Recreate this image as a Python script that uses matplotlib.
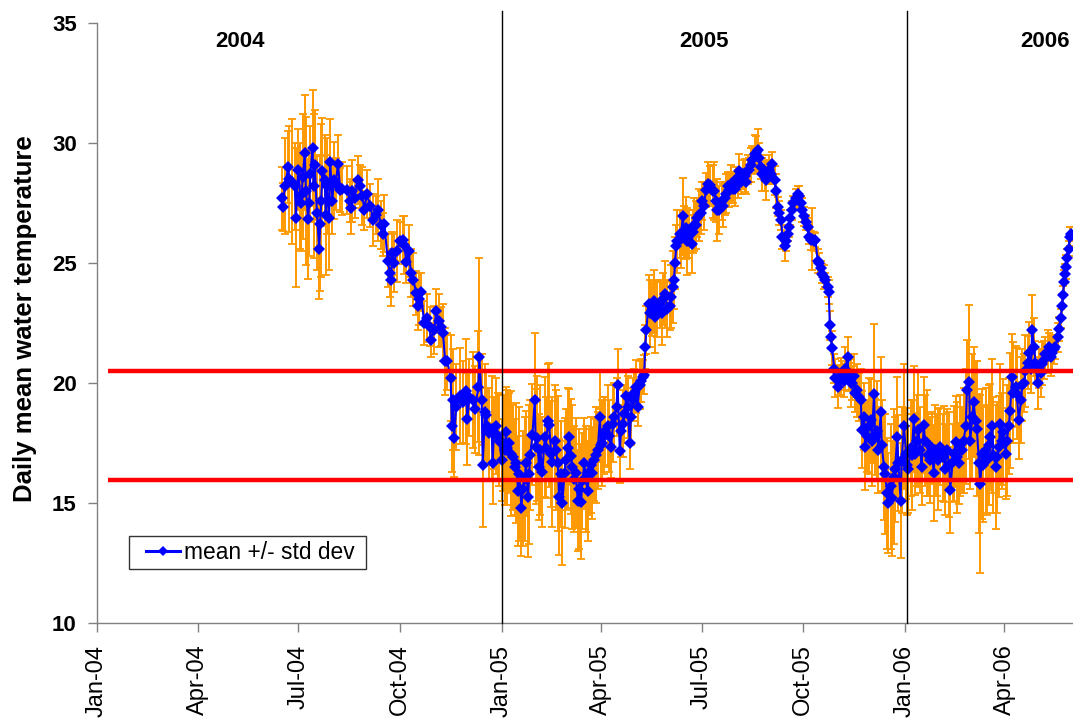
import matplotlib
matplotlib.use('Agg')
import matplotlib.pyplot as plt
import matplotlib.dates as mdates
from matplotlib.legend_handler import HandlerLine2D
import numpy as np
import pandas as pd

plt.rcParams['font.family'] = ['Liberation Sans', 'DejaVu Sans']

# Daily mean water temperature
# day = days since 2004-01-01
days_a = [167, 168, 170, 173, 174, 176, 179, 180, 182, 184, 185, 186, 188, 189, 191,
          192, 193, 195, 196, 197, 199, 201, 202, 203, 204, 206, 207, 208, 210, 211,
          213, 214, 216, 218, 220, 222]
mean_a = [27.7, 27.35, 28.2, 29.0, 28.5, 28.4, 28.2, 26.9, 28.9, 27.8, 27.5, 28.6, 29.6, 28.0, 26.85,
          27.5, 28.7, 29.8, 28.2, 29.1, 27.1, 25.6, 26.65, 27.6, 28.85, 28.45, 27.0, 28.2, 26.9, 29.2,
          27.6, 28.45, 28.3, 29.15, 28.05, 28.1]
sd_a = [1.3, 1.0, 2.0, 1.5, 2.2, 2.6, 1.8, 2.9, 1.7, 2.2, 2.0, 2.6, 2.4, 3.1, 2.5,
        2.2, 2.0, 2.4, 3.0, 2.3, 2.4, 2.1, 2.8, 3.2, 2.2, 1.9, 2.5, 2.0, 2.2, 1.8,
        1.4, 1.6, 1.1, 1.2, 0.9, 1.1]

days_b = [226, 229, 230, 231, 233, 236, 238, 240, 242, 244, 247, 250, 252, 254, 257,
          259, 260, 263, 265, 266, 267, 269, 271, 274, 277, 278, 280, 282, 284, 286,
          289, 290, 291, 293, 296, 299, 301, 302, 305, 307, 309, 311, 313, 315, 317,
          320, 321, 322, 323]
mean_b = [28.05, 27.6, 27.3, 28.0, 27.7, 28.45, 28.2, 27.8, 27.2, 27.9, 27.4, 26.8, 27.0, 27.2, 26.6,
          26.2, 26.65, 25.1, 24.6, 24.3, 25.4, 25.0, 25.5, 25.9, 25.95, 25.75, 25.05, 25.5, 24.6, 24.3,
          23.75, 23.2, 23.5, 23.8, 22.5, 22.7, 22.35, 21.8, 22.2, 23.0, 22.6, 22.35, 22.1, 20.9, 20.9,
          20.2, 18.2, 19.3, 17.7]
sd_b = [1.0, 0.9, 1.1, 1.3, 0.8, 1.0, 0.9, 1.2, 0.8, 1.0, 0.9, 1.1, 0.8, 1.3, 1.0,
        0.9, 1.2, 1.1, 1.0, 1.1, 0.9, 1.2, 1.3, 0.8, 1.0, 1.2, 0.9, 1.1, 1.0, 1.1,
        0.9, 1.0, 1.1, 0.8, 0.9, 1.0, 0.8, 0.7, 1.0, 0.9, 1.1, 0.8, 1.2, 1.4, 1.2,
        1.8, 1.9, 2.1, 1.6]

days_c = [325, 328, 331, 334, 335, 337, 340, 342, 345, 346, 348, 349, 351, 352, 353,
          355, 357, 358, 359, 361, 363, 364, 366]
mean_c = [19.0, 19.45, 19.2, 19.65, 18.5, 19.4, 19.3, 18.9, 19.85, 21.1, 19.3, 16.6, 18.8, 18.65, 18.2,
          17.9, 18.1, 16.65, 17.9, 18.2, 17.8, 17.6, 16.8]
sd_c = [1.8, 2.0, 1.7, 2.2, 1.9, 1.6, 2.0, 1.8, 2.3, 4.1, 1.9, 2.6, 2.0, 1.8, 1.6,
        1.9, 2.2, 1.7, 1.5, 2.0, 1.8, 1.9, 1.7]

days_d = [367, 369, 370, 371, 373, 375, 376, 378, 379, 381, 382, 384, 385, 387, 388,
          390, 391, 392, 394, 396, 397, 398, 400, 401, 403, 405, 406, 408, 409, 411,
          412, 414, 415, 417, 418, 420, 421, 423, 424, 426, 427, 429, 430, 432, 433,
          435, 436, 438, 439, 441, 442, 444, 445, 447, 448, 450, 451, 453, 455, 456,
          457, 459, 460, 462, 463, 465, 467, 468, 470, 471, 473, 474, 476, 477, 479,
          480, 482, 483, 485, 486, 488, 489, 491, 492, 494, 495]
mean_d = [17.5, 17.2, 17.95, 17.3, 17.5, 17.05, 16.9, 16.5, 16.65, 15.5, 16.2, 14.8, 15.6, 16.0, 16.65,
          15.25, 16.2, 17.0, 17.85, 19.3, 17.35, 17.7, 16.5, 17.2, 16.3, 17.75, 17.3, 18.4, 18.25, 17.05,
          16.7, 17.6, 17.2, 16.65, 15.25, 16.2, 15.0, 16.25, 16.8, 17.3, 17.75, 16.95, 16.5, 16.0, 16.25,
          15.1, 15.6, 15.05, 15.9, 16.65, 16.0, 15.5, 16.3, 16.6, 16.25, 16.8, 17.0, 17.2, 18.6, 17.4,
          17.5, 17.8, 18.0, 18.2, 17.8, 17.35, 18.3, 18.6, 19.0, 19.9, 17.15, 18.0, 18.3, 18.7, 19.45,
          19.0, 17.5, 18.6, 19.3, 19.6, 19.85, 19.0, 19.9, 20.1, 20.25, 20.35]
sd_d = [2.0, 2.3, 1.9, 2.4, 2.1, 2.6, 2.2, 2.0, 2.5, 2.3, 2.8, 2.0, 2.4, 2.6, 2.2,
        2.5, 2.9, 2.3, 2.1, 2.8, 2.4, 2.6, 2.2, 2.7, 2.3, 2.5, 2.1, 2.4, 2.6, 2.2,
        2.7, 2.3, 2.5, 2.8, 2.4, 2.2, 2.6, 2.3, 2.1, 2.5, 2.0, 2.4, 2.6, 2.2, 2.3,
        2.1, 2.5, 2.4, 2.0, 1.9, 2.2, 2.1, 1.8, 2.0, 1.9, 1.7, 2.0, 1.6, 1.9, 1.5,
        1.8, 1.6, 1.4, 1.7, 1.5, 1.3, 1.6, 1.4, 1.2, 1.5, 1.3, 1.1, 1.4, 1.2, 1.0,
        1.3, 1.1, 1.2, 0.9, 1.0, 1.1, 0.8, 1.0, 0.9, 0.7, 0.8]

days_e = [496, 497, 499, 500, 502, 504, 505, 507, 509, 511, 512, 514, 516, 518, 519,
          521, 522, 523, 524, 525, 527, 528, 530, 531, 533, 534, 536, 538, 539, 540,
          542, 543, 545, 546, 547, 549, 551, 553, 555, 557, 558, 560, 561, 563, 565,
          566, 568, 569, 571, 572, 574, 575, 577, 578, 580, 581, 583, 584, 586, 587,
          589, 590, 592, 593, 595, 596, 598, 599, 601, 602, 604, 605, 607, 608, 610,
          611, 613, 614, 616, 617, 619, 620, 622, 623, 625, 626, 627, 629, 630, 632,
          634, 635, 637, 638, 640, 641, 643, 644, 646, 647, 649, 650, 652, 653, 655,
          656, 658, 659, 661, 662, 663, 664, 665, 667, 668, 670]
mean_e = [21.5, 22.2, 23.3, 22.9, 23.05, 23.4, 22.75, 23.1, 23.3, 22.9, 23.5, 23.7, 23.1, 23.2, 23.6,
          24.0, 24.3, 25.0, 25.7, 25.9, 26.2, 26.0, 26.95, 26.3, 26.45, 25.9, 26.2, 25.8, 26.3, 26.6,
          26.6, 26.9, 27.0, 27.1, 27.6, 27.4, 28.05, 28.3, 28.25, 28.0, 28.0, 27.6, 27.2, 27.2, 27.6,
          27.4, 27.7, 27.9, 28.2, 28.05, 28.3, 28.1, 28.1, 28.5, 28.3, 28.85, 28.4, 28.7, 28.65, 28.4,
          28.9, 28.9, 29.1, 29.3, 29.55, 29.6, 29.7, 29.4, 29.0, 28.7, 28.6, 28.45, 28.8, 28.9, 28.7,
          29.15, 28.45, 28.0, 27.35, 27.1, 26.8, 26.1, 25.7, 25.9, 26.2, 26.5, 26.9, 27.2, 27.5, 27.7,
          27.9, 27.8, 27.5, 27.2, 26.95, 26.7, 26.5, 26.1, 25.95, 26.0, 25.9, 25.95, 25.1, 25.0, 24.8,
          24.55, 24.4, 24.3, 24.0, 23.8, 22.4, 21.9, 21.45, 20.6, 20.2, 19.85]
sd_e = [0.9, 1.0, 1.2, 1.4, 1.1, 1.3, 1.5, 1.2, 1.0, 1.3, 1.1, 1.4, 1.2, 1.0, 1.3,
        1.5, 1.2, 1.1, 0.9, 1.3, 1.0, 1.2, 1.6, 1.1, 1.3, 1.4, 1.0, 1.2, 0.9, 1.1,
        1.0, 0.8, 1.1, 0.9, 0.8, 1.0, 0.7, 0.9, 0.8, 1.1, 1.2, 0.9, 1.3, 1.0, 0.8,
        0.9, 0.7, 0.8, 0.6, 0.7, 0.8, 0.6, 0.7, 0.5, 0.6, 0.7, 0.5, 0.6, 0.7, 0.5,
        0.6, 0.5, 0.7, 0.6, 0.8, 0.7, 0.9, 0.6, 0.5, 0.7, 0.6, 0.8, 0.5, 0.6, 0.4,
        0.5, 0.6, 0.7, 0.4, 0.5, 0.4, 0.5, 0.6, 0.4, 0.3, 0.4, 0.3, 0.4, 0.3, 0.4,
        0.3, 0.4, 0.3, 0.5, 0.4, 0.3, 0.4, 0.3, 0.4, 1.3, 0.4, 0.3, 0.5, 0.4, 0.3,
        0.4, 0.5, 0.3, 0.4, 0.5, 0.6, 0.5, 0.7, 0.6, 0.8, 0.9]

days_f = [671, 673, 674, 676, 677, 679, 680, 682, 683, 685, 686, 688, 689, 691, 692,
          694, 695, 697, 698, 700, 701, 703, 704, 706, 707, 709, 710, 712, 713, 715,
          716, 718, 719, 721, 722, 724, 725, 727, 728, 730, 732, 733, 734, 736, 737,
          739, 740, 742, 743, 745, 746, 748, 749, 751, 752, 754, 755, 757, 758, 760,
          761, 763, 765, 766, 767, 769, 771, 772, 774, 775, 777, 778, 780, 781, 783,
          784, 786, 787, 789, 790, 792, 793, 795, 796, 798, 799, 801, 802, 804, 805,
          807, 808, 810, 811, 813, 814, 816, 817, 819, 820, 822, 823, 825, 826, 828,
          829, 831, 832, 834, 836, 837]
mean_f = [20.1, 20.25, 20.4, 20.1, 20.6, 21.1, 20.25, 20.0, 20.0, 20.3, 19.6, 19.7, 19.4, 19.3, 18.05,
          18.6, 17.35, 17.8, 18.2, 18.45, 17.6, 19.55, 17.75, 18.0, 17.2, 18.8, 17.4, 16.5, 16.2, 15.4,
          15.0, 15.7, 15.2, 16.1, 16.4, 17.75, 16.65, 15.1, 16.8, 18.2, 17.05, 16.6, 16.4, 17.3, 17.0,
          18.5, 17.05, 17.6, 18.05, 17.2, 16.5, 18.25, 17.6, 17.5, 17.0, 16.8, 17.3, 16.25, 17.2, 17.0,
          16.8, 17.35, 16.9, 17.05, 16.4, 17.2, 16.6, 15.55, 16.7, 17.05, 17.55, 16.9, 16.65, 17.4, 17.2,
          17.6, 18.2, 19.7, 20.05, 17.6, 18.6, 19.2, 18.4, 18.1, 16.65, 15.8, 17.05, 16.6, 17.2, 16.8,
          17.4, 17.75, 18.2, 17.0, 16.5, 16.9, 17.35, 18.3, 17.6, 17.95, 17.05, 17.6, 18.2, 18.85, 20.25,
          19.6, 19.85, 19.55, 18.45, 19.3, 19.9]
sd_f = [0.6, 0.8, 0.5, 0.7, 0.9, 0.8, 0.6, 1.0, 0.7, 0.9, 0.8, 1.1, 1.0, 1.3, 1.6,
        1.4, 1.8, 1.5, 2.0, 1.7, 1.9, 2.9, 1.6, 2.1, 1.8, 2.3, 1.9, 2.2, 2.5, 2.3,
        2.1, 2.6, 2.4, 2.8, 2.2, 2.5, 2.0, 2.4, 2.2, 2.6, 1.9, 2.1, 1.8, 2.0, 2.3,
        2.2, 1.7, 1.9, 2.4, 1.8, 1.6, 2.0, 1.9, 2.2, 1.7, 1.8, 1.5, 2.0, 1.9, 1.7,
        2.1, 1.6, 1.8, 2.0, 1.9, 1.7, 2.2, 1.8, 1.6, 2.0, 1.9, 2.3, 1.7, 2.1, 1.8,
        2.2, 2.4, 2.1, 3.2, 2.0, 2.6, 2.3, 2.5, 2.8, 2.9, 3.7, 2.7, 2.4, 2.6, 2.3,
        2.5, 2.2, 2.8, 2.4, 2.6, 2.3, 2.1, 2.5, 2.0, 2.2, 1.9, 2.3, 2.0, 2.4, 1.8,
        2.1, 1.7, 1.9, 1.6, 1.8, 1.5]

days_g = [839, 840, 842, 843, 845, 846, 848, 849, 851, 852, 854, 855, 857, 858, 860,
          861, 863, 864, 866, 867, 869, 870, 872, 873, 874, 875, 876, 877, 878, 879,
          880, 881]
mean_g = [20.0, 20.5, 20.85, 21.25, 20.6, 22.2, 21.5, 20.85, 20.0, 20.6, 20.4, 20.8, 20.95, 21.2, 21.3,
          21.5, 21.1, 21.25, 21.4, 21.5, 21.9, 22.25, 22.7, 23.2, 23.65, 24.2, 24.55, 24.85, 25.2, 25.6,
          26.1, 26.2]
sd_g = [1.2, 1.5, 1.1, 1.3, 1.0, 1.45, 1.2, 0.9, 1.1, 0.8, 1.0, 0.9, 0.8, 0.7, 0.9,
        0.6, 0.8, 0.7, 0.6, 0.5, 0.6, 0.5, 0.4, 0.5, 0.4, 0.5, 0.4, 0.5, 0.4, 0.3,
        0.4, 0.3]

upper_limit = 20.5
lower_limit = 15.95
year_labels = ['2004', '2005', '2006']
year_label_dates = ['2004-05-09', '2005-07-03', '2006-05-08']
year_breaks = ['2005-01-01', '2006-01-03']


def main():
    start = pd.Timestamp('2004-01-01')
    days = np.concatenate([days_a, days_b, days_c, days_d, days_e, days_f, days_g])
    mean = np.concatenate([mean_a, mean_b, mean_c, mean_d, mean_e, mean_f, mean_g])
    sd = np.concatenate([sd_a, sd_b, sd_c, sd_d, sd_e, sd_f, sd_g])
    dates = start + pd.to_timedelta(days, unit='D')

    fig = plt.figure(figsize=(10.73, 7.21), dpi=100)
    ax = fig.add_axes([0.0904, 0.1359, 0.9096, 0.832])

    ax.errorbar(dates, mean, yerr=sd, fmt='none', ecolor='#FF9900',
                elinewidth=1.4, capsize=3.2, capthick=1.3, zorder=2)
    line, = ax.plot(dates, mean, color='#0000FF', lw=1.5, marker='D',
                    markersize=6.5, markeredgewidth=0, zorder=3)

    x_end = pd.Timestamp('2006-06-02')
    ax.hlines([upper_limit, lower_limit], pd.Timestamp('2004-01-11'), x_end,
              color='#FF0000', lw=3.2, zorder=4)
    for d in year_breaks:
        ax.axvline(pd.Timestamp(d), ymin=0, ymax=1.02, color='black', lw=1,
                   clip_on=False, zorder=5)
    for lab, d in zip(year_labels, year_label_dates):
        ax.text(pd.Timestamp(d), 34.23, lab, ha='center', va='center',
                fontsize=16, fontweight='bold')

    ax.set_xlim(start, x_end)
    ax.set_ylim(10, 35)
    ax.set_yticks(np.arange(10, 36, 5))
    ax.xaxis.set_major_locator(mdates.MonthLocator(bymonth=[1, 4, 7, 10]))
    ax.xaxis.set_major_formatter(mdates.DateFormatter('%b-%y'))
    for lab in ax.get_yticklabels():
        lab.set_fontweight('bold')
    ax.tick_params(axis='y', labelsize=16, length=6.5, width=1, color='#808080', pad=8)
    ax.tick_params(axis='x', labelsize=17, length=6.5, width=1, color='#808080',
                   pad=9, labelrotation=90)

    for s in ['top', 'right']:
        ax.spines[s].set_visible(False)
    for s in ['left', 'bottom']:
        ax.spines[s].set_color('#808080')
        ax.spines[s].set_linewidth(1)

    ax.set_ylabel('Daily mean water temperature', fontsize=18.5, fontweight='bold')
    ax.yaxis.set_label_coords(-0.061, 0.5075)

    leg = ax.legend([line], ['mean +/- std dev '], loc='lower left',
                    bbox_to_anchor=(0.0331, 0.09), borderaxespad=0, fontsize=16.4,
                    frameon=True, fancybox=False, borderpad=0.22, handlelength=2.0,
                    handletextpad=0.2, markerscale=0.75,
                    handler_map={line: HandlerLine2D(xpad=0.5)})
    leg.get_frame().set_edgecolor('black')
    leg.get_frame().set_linewidth(1)
    leg.get_lines()[0].set_linewidth(2.2)

    fig.savefig('out.png', dpi=100)


if __name__ == '__main__':
    main()
